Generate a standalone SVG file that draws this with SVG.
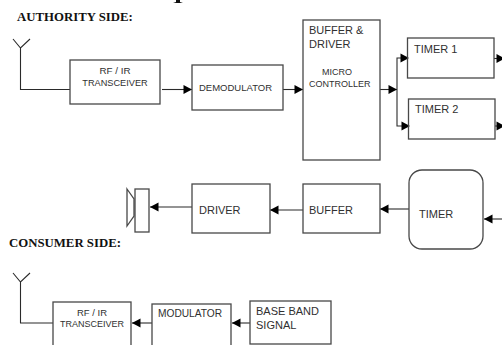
<svg xmlns="http://www.w3.org/2000/svg" width="502" height="345" viewBox="0 0 502 345">
<style>
.b{fill:none;stroke:#484848;stroke-width:1.3}
.c{fill:none;stroke:#2a2a2a;stroke-width:1.1}
.a{fill:#000;stroke:none}
text{font-family:"Liberation Sans",Arial,sans-serif;fill:#303030}
.h{font-family:"Liberation Serif","Times New Roman",serif;font-weight:bold;font-size:12.8px;fill:#111}
.s{font-size:9px}
.t{font-size:9.200px}
.r{font-size:9.800px}
.m{font-size:10.200px}
.d{font-size:9.500px}
.l{font-size:11px}
</style>
<defs>
<path id="r" class="a" d="M0 0L-8.500 -4.500V4.500Z"/>
</defs>
<rect width="502" height="345" fill="#fff"/>
<text class="h" x="17" y="21">AUTHORITY SIDE:</text>
<text class="h" x="9" y="247">CONSUMER SIDE:</text>
<path d="M176 0H180V2L183 3H173L176 2Z" fill="#111"/>
<g id="connectors">
<path class="c" d="M13 39L20.500 48L30 39M20.500 48V89.500H70"/>
<path class="c" d="M162 89.500H192"/><use href="#r" x="192" y="89.500"/>
<path class="c" d="M283 89.500H303"/><use href="#r" x="303" y="89.500"/>
<path class="c" d="M380 89.500H397"/><use href="#r" x="397" y="89.500"/>
<path class="c" d="M397 89.500V58H407M397 89.500V126H408"/><use href="#r" x="409" y="58"/><use href="#r" x="410" y="126"/>
<path class="c" d="M494 58.500H498"/><use href="#r" x="505" y="58.500"/>
<path class="c" d="M495 126H498"/><use href="#r" x="505" y="126"/>
<path class="c" d="M192 207H150"/><use href="#r" transform="translate(150,207) rotate(180)"/>
<path class="c" d="M303 210H270"/><use href="#r" transform="translate(270,210) rotate(180)"/>
<path class="c" d="M409 209H380"/><use href="#r" transform="translate(380,209) rotate(180)"/>
<path class="c" d="M502 219H484"/><use href="#r" transform="translate(484,219) rotate(180)"/>
<path class="c" d="M13 273L20.500 282L30 273M20.500 282V323H53"/>
<path class="c" d="M152 323H132"/><use href="#r" transform="translate(132,323) rotate(180)"/>
<path class="c" d="M250 323H232"/><use href="#r" transform="translate(232,323) rotate(180)"/>
</g>
<g id="rf1"><rect class="b" x="70" y="60" width="90" height="44"/><text class="r" x="115" y="74" text-anchor="middle">RF / IR</text><text class="t" x="115" y="86" text-anchor="middle">TRANSCEIVER</text></g>
<g id="demod"><rect class="b" x="192" y="65" width="91" height="45"/><text class="d" x="199" y="91">DEMODULATOR</text></g>
<g id="mcu"><rect class="b" x="303" y="20" width="77" height="140"/><text class="l" x="309" y="34">BUFFER &amp;</text><text class="l" x="309" y="48">DRIVER</text><text class="s" x="322" y="75">MICRO</text><text class="s" x="309" y="87">CONTROLLER</text></g>
<g id="timer1"><rect class="b" x="407.500" y="38" width="86.500" height="40"/><text class="l" x="414" y="53">TIMER 1</text></g>
<g id="timer2"><rect class="b" x="408.500" y="99" width="86.500" height="40"/><text class="l" x="415" y="113">TIMER 2</text></g>
<g id="speaker"><rect class="b" x="135" y="189" width="14" height="43"/><path class="b" d="M127 189L134 199V216L127 226Z"/></g>
<g id="driver"><rect class="b" x="192" y="184" width="78" height="49"/><text class="l" x="199" y="214">DRIVER</text></g>
<g id="buffer"><rect class="b" x="303" y="184" width="77" height="49"/><text class="l" x="309" y="214">BUFFER</text></g>
<g id="timer"><rect class="b" x="409" y="170" width="74" height="79" rx="13"/><text class="l" x="419" y="218">TIMER</text></g>
<g id="rf2"><rect class="b" x="53" y="302" width="78" height="50"/><text class="d" x="92" y="316" text-anchor="middle">RF / IR</text><text class="s" x="92" y="327" text-anchor="middle">TRANSCEIVER</text></g>
<g id="mod"><rect class="b" x="152" y="304" width="79" height="50"/><text class="m" x="158" y="317">MODULATOR</text></g>
<g id="base"><rect class="b" x="250" y="301" width="81" height="43"/><text class="l" x="256" y="315">BASE BAND</text><text class="l" x="256" y="329">SIGNAL</text></g>
</svg>
